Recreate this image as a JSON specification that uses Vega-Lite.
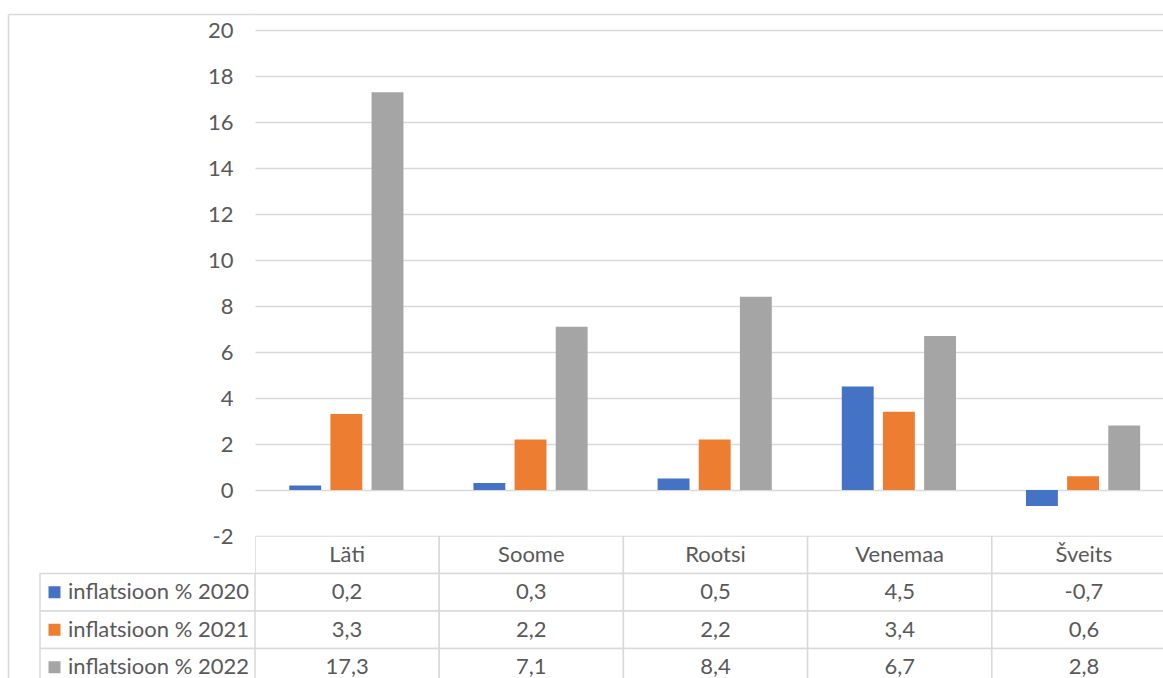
{
  "$schema": "https://vega.github.io/schema/vega-lite/v6.json",
  "padding": {"left": 8, "top": 14, "right": 0, "bottom": 0},
  "background": "white",
  "columns": 2,
  "spacing": 0,
  "bounds": "flush",
  "datasets": {
    "infl": [
      {"country": "Läti", "series": "inflatsioon % 2020", "value": 0.2},
      {"country": "Läti", "series": "inflatsioon % 2021", "value": 3.3},
      {"country": "Läti", "series": "inflatsioon % 2022", "value": 17.3},
      {"country": "Soome", "series": "inflatsioon % 2020", "value": 0.3},
      {"country": "Soome", "series": "inflatsioon % 2021", "value": 2.2},
      {"country": "Soome", "series": "inflatsioon % 2022", "value": 7.1},
      {"country": "Rootsi", "series": "inflatsioon % 2020", "value": 0.5},
      {"country": "Rootsi", "series": "inflatsioon % 2021", "value": 2.2},
      {"country": "Rootsi", "series": "inflatsioon % 2022", "value": 8.4},
      {"country": "Venemaa", "series": "inflatsioon % 2020", "value": 4.5},
      {"country": "Venemaa", "series": "inflatsioon % 2021", "value": 3.4},
      {"country": "Venemaa", "series": "inflatsioon % 2022", "value": 6.7},
      {"country": "Šveits", "series": "inflatsioon % 2020", "value": -0.7},
      {"country": "Šveits", "series": "inflatsioon % 2021", "value": 0.6},
      {"country": "Šveits", "series": "inflatsioon % 2022", "value": 2.8}
    ],
    "frame": [{"v": 0}]
  },
  "config": {
    "font": "Lato",
    "view": {"stroke": null},
    "locale": {"number": {"decimal": ",", "thousands": " ", "grouping": [3], "currency": ["", " €"], "minus": "-"}}
  },
  "resolve": {"scale": {"x": "independent", "y": "independent", "color": "independent"}},
  "concat": [
    {
      "width": 247,
      "height": 522,
      "data": {"name": "frame"},
      "mark": {"type": "point", "opacity": 0},
      "encoding": {
        "x": {"field": "v", "type": "quantitative", "axis": {"orient": "top", "labels": false, "ticks": false, "grid": false, "title": null, "domainColor": "#d9d9d9", "domainWidth": 1.5}},
        "y": {"field": "v", "type": "quantitative", "axis": {"orient": "left", "labels": false, "ticks": false, "grid": false, "title": null, "domainColor": "#d9d9d9", "domainWidth": 1.5}}
      }
    },
    {
      "width": 908,
      "height": 522,
      "data": {"name": "infl"},
      "mark": {"type": "bar"},
      "encoding": {
        "x": {"field": "country", "type": "nominal", "sort": null,
              "scale": {"paddingInner": 0.38, "paddingOuter": 0.155, "align": 0.6},
              "axis": {"orient": "top", "labels": false, "ticks": false, "title": null, "domainColor": "#d9d9d9", "domainWidth": 1.5}},
        "xOffset": {"field": "series", "type": "nominal", "sort": null, "scale": {"paddingInner": 0.225, "paddingOuter": 0}},
        "y": {"field": "value", "type": "quantitative", "stack": null,
              "scale": {"domain": [-2, 20.7], "nice": false},
              "axis": {"values": [-2, 0, 2, 4, 6, 8, 10, 12, 14, 16, 18, 20], "title": null, "domain": false, "ticks": false,
                       "labelPadding": 22, "labelFont": "Lato", "labelFontSize": 22, "labelColor": "#595959",
                       "gridColor": "#d9d9d9", "gridWidth": 1.5, "format": "d"}},
        "color": {"field": "series", "type": "nominal",
                  "scale": {"domain": ["inflatsioon % 2020", "inflatsioon % 2021", "inflatsioon % 2022"], "range": ["#4472C4", "#ED7D31", "#A5A5A5"]},
                  "legend": null}
      }
    },
    {
      "width": 247,
      "height": 142,
      "layer": [
        {
          "data": {"name": "infl"},
          "transform": [{"filter": "datum.country == 'Läti'"}],
          "encoding": {
            "x": {"datum": "lbl", "type": "nominal", "scale": {"range": [32, 247], "paddingInner": 0, "paddingOuter": 0}, "axis": null},
            "y": {"field": "series", "type": "nominal", "scale": {"domain": ["header", "inflatsioon % 2020", "inflatsioon % 2021", "inflatsioon % 2022"], "range": [0, 150], "paddingInner": 0, "paddingOuter": 0}, "axis": null}
          },
          "layer": [
            {
              "mark": {"type": "rect", "fill": "white", "stroke": "#d9d9d9", "strokeWidth": 1.5, "clip": true}
            },
            {
              "mark": {"type": "square", "filled": true, "opacity": 1, "size": 144, "xOffset": 14.5},
              "encoding": {
                "x": {"datum": "lbl", "type": "nominal", "bandPosition": 0, "axis": null},
                "color": {"field": "series", "type": "nominal",
                          "scale": {"domain": ["inflatsioon % 2020", "inflatsioon % 2021", "inflatsioon % 2022"], "range": ["#4472C4", "#ED7D31", "#A5A5A5"]},
                          "legend": null}
              }
            },
            {
              "mark": {"type": "text", "align": "left", "baseline": "middle", "dx": 28, "font": "Lato", "fontSize": 22, "color": "#595959"},
              "encoding": {
                "x": {"datum": "lbl", "type": "nominal", "bandPosition": 0, "axis": null},
                "text": {"field": "series"}
              }
            }
          ]
        },
        {
          "data": {"name": "frame"},
          "mark": {"type": "point", "opacity": 0},
          "encoding": {
            "y": {"field": "v", "type": "quantitative", "axis": {"orient": "left", "labels": false, "ticks": false, "grid": false, "title": null, "domainColor": "#d9d9d9", "domainWidth": 1.5}}
          }
        }
      ],
      "resolve": {"scale": {"y": "independent"}}
    },
    {
      "width": 908,
      "height": 142,
      "layer": [
        {
          "data": {"name": "infl"},
          "transform": [{"filter": "datum.series == 'inflatsioon % 2020'"}],
          "mark": {"type": "rect", "fill": "white", "stroke": "#d9d9d9", "strokeWidth": 1.5, "clip": true},
          "encoding": {
            "x": {"field": "country", "type": "nominal", "sort": null, "scale": {"range": [0, 921], "paddingInner": 0, "paddingOuter": 0}, "axis": null},
            "y": {"datum": "header", "type": "nominal", "scale": {"domain": ["header", "inflatsioon % 2020", "inflatsioon % 2021", "inflatsioon % 2022"], "range": [0, 150], "paddingInner": 0, "paddingOuter": 0}, "axis": null}
          }
        },
        {
          "data": {"name": "infl"},
          "mark": {"type": "rect", "fill": "white", "stroke": "#d9d9d9", "strokeWidth": 1.5, "clip": true},
          "encoding": {
            "x": {"field": "country", "type": "nominal", "sort": null},
            "y": {"field": "series", "type": "nominal"}
          }
        },
        {
          "data": {"name": "infl"},
          "transform": [{"filter": "datum.series == 'inflatsioon % 2020'"}],
          "mark": {"type": "text", "align": "center", "baseline": "middle", "font": "Lato", "fontSize": 22, "color": "#595959"},
          "encoding": {
            "x": {"field": "country", "type": "nominal", "sort": null},
            "y": {"datum": "header", "type": "nominal"},
            "text": {"field": "country"}
          }
        },
        {
          "data": {"name": "infl"},
          "mark": {"type": "text", "align": "center", "baseline": "middle", "font": "Lato", "fontSize": 22, "color": "#595959"},
          "encoding": {
            "x": {"field": "country", "type": "nominal", "sort": null},
            "y": {"field": "series", "type": "nominal"},
            "text": {"field": "value", "type": "quantitative", "format": ".1f"}
          }
        }
      ]
    }
  ]
}
